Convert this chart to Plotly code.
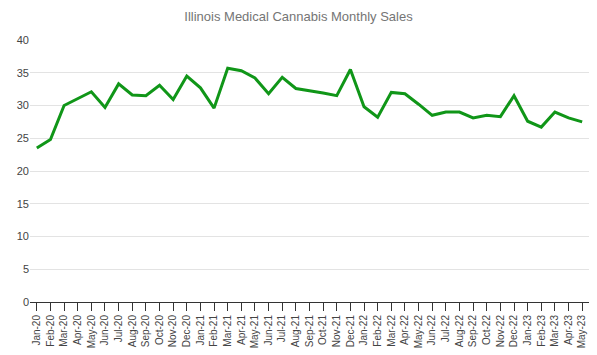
import plotly.graph_objects as go

months = ["Jan-20","Feb-20","Mar-20","Apr-20","May-20","Jun-20","Jul-20","Aug-20","Sep-20","Oct-20","Nov-20","Dec-20",
          "Jan-21","Feb-21","Mar-21","Apr-21","May-21","Jun-21","Jul-21","Aug-21","Sep-21","Oct-21","Nov-21","Dec-21",
          "Jan-22","Feb-22","Mar-22","Apr-22","May-22","Jun-22","Jul-22","Aug-22","Sep-22","Oct-22","Nov-22","Dec-22",
          "Jan-23","Feb-23","Mar-23","Apr-23","May-23"]
sales = [23.5, 24.8, 30.0, 31.1, 32.1, 29.7, 33.3, 31.6, 31.5, 33.1, 30.9, 34.5,
         32.7, 29.6, 35.7, 35.3, 34.2, 31.8, 34.3, 32.6, 32.3, 31.9, 31.5, 35.5,
         29.8, 28.2, 32.0, 31.8, 30.2, 28.5, 29.0, 29.0, 28.1, 28.5, 28.3, 31.5,
         27.6, 26.7, 29.0, 28.1, 27.5]
y_ticks = [0, 5, 10, 15, 20, 25, 30, 35, 40]
title = "Illinois Medical Cannabis Monthly Sales"

fig = go.Figure(go.Scatter(x=months, y=sales, mode="lines",
                           line=dict(color="#109618", width=3), hoverinfo="x+y"))
fig.update_layout(
    width=597, height=355,
    margin=dict(l=30, r=8, t=40, b=53),
    paper_bgcolor="white", plot_bgcolor="white",
    showlegend=False,
    title=dict(text=title, x=0.5, xanchor="center", y=0.955, yanchor="middle",
               font=dict(family="Liberation Sans, Arial", size=13, color="#757575")),
    font=dict(family="Liberation Sans, Arial", size=11, color="#444444"),
    xaxis=dict(type="category", range=[-0.5, 40.5], tickangle=-90,
               showgrid=False, showline=True, linecolor="#333333", linewidth=1,
               ticks="outside", ticklen=8, tickcolor="#333333", tickwidth=1,
               tickfont=dict(size=10, color="#444444"), fixedrange=True),
    yaxis=dict(range=[0, 40], tickvals=y_ticks, showgrid=True, gridcolor="#e3e3e3", gridwidth=1,
               zeroline=False, showline=False, ticks="", ticklen=0,
               tickfont=dict(size=11, color="#444444"), fixedrange=True),
)
fig.write_html("out.html", config={"displayModeBar": False},
               post_script="document.body.style.margin='0';document.body.style.padding='0';")
